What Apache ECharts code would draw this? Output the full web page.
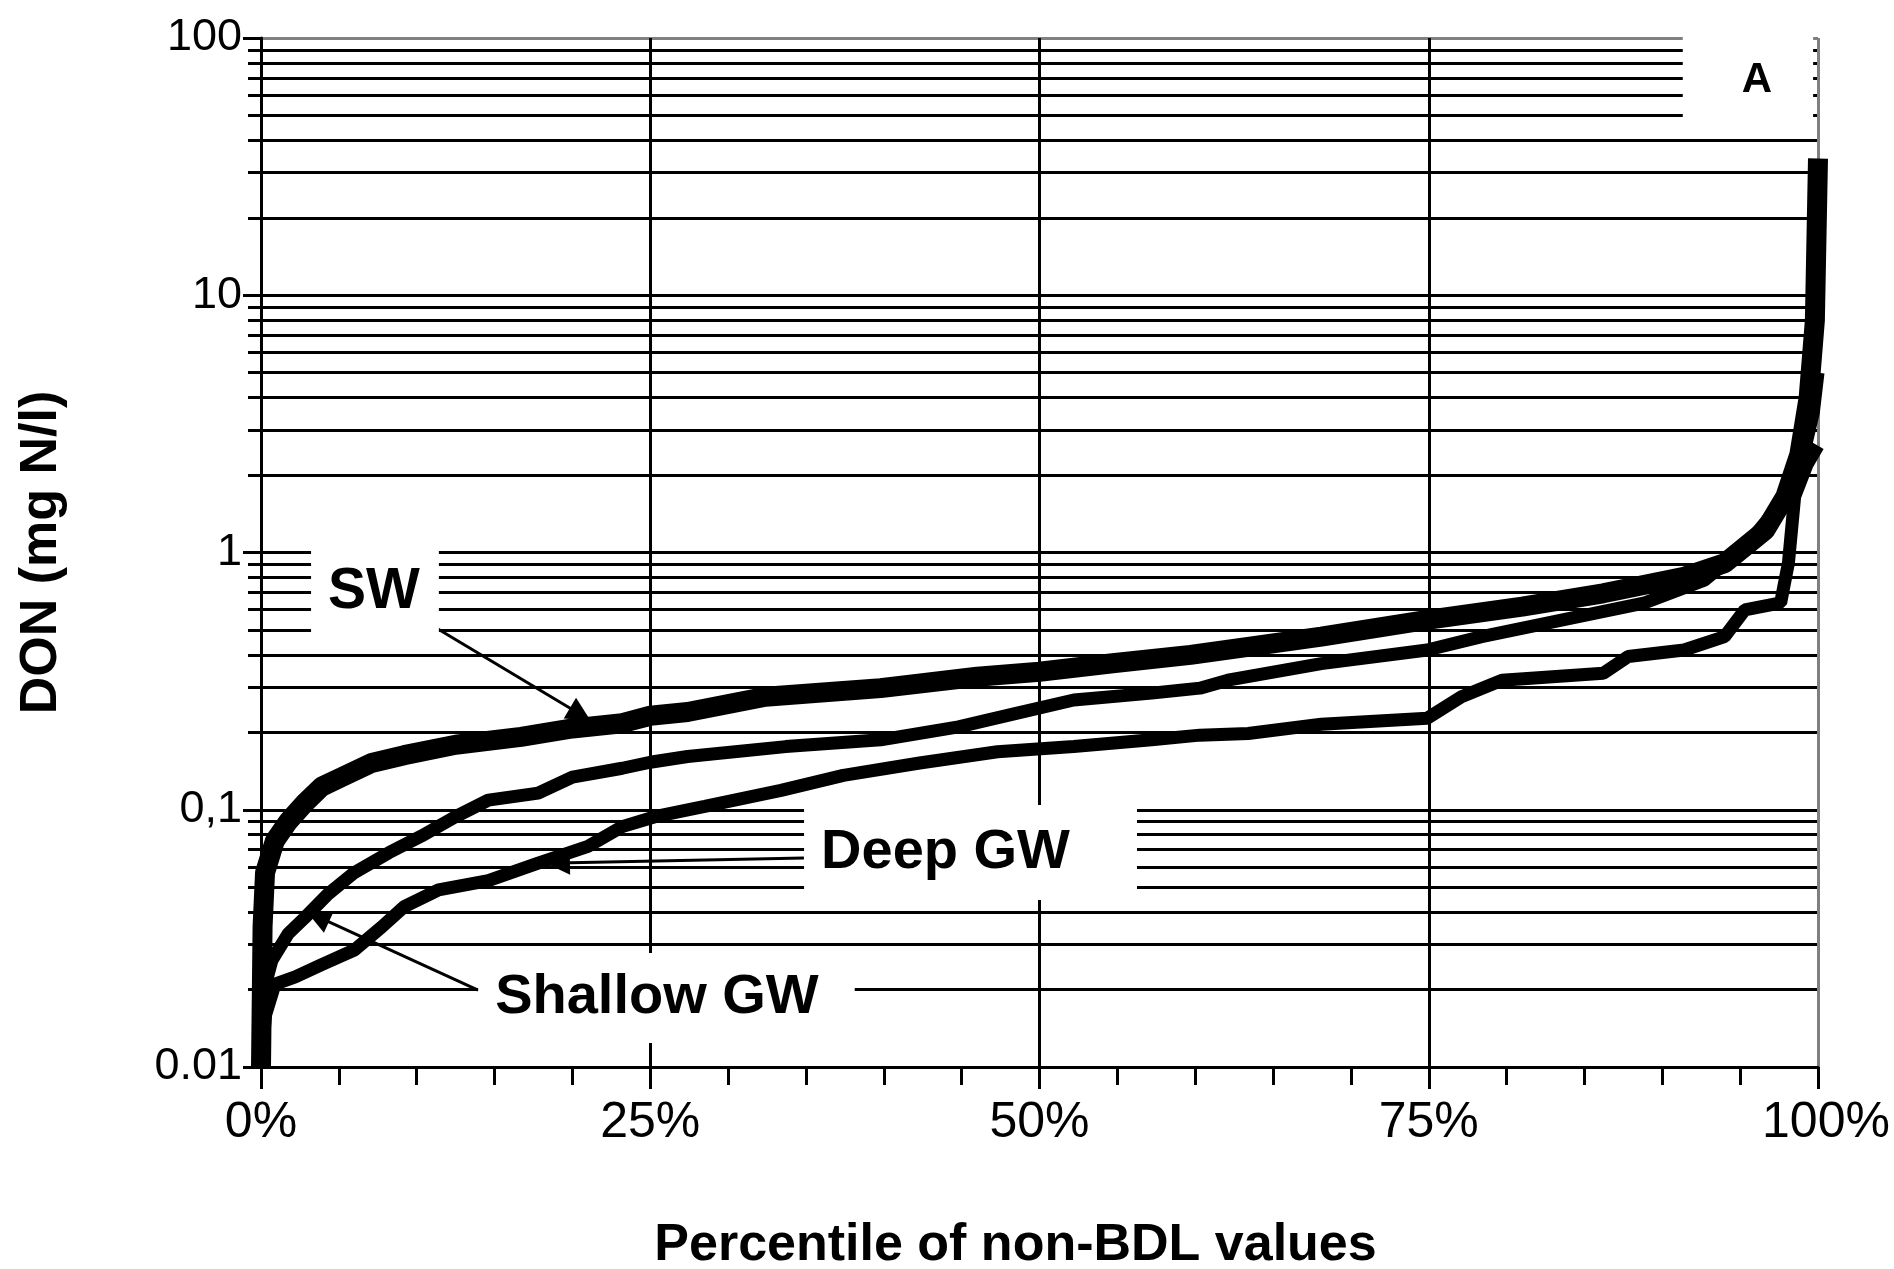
<!DOCTYPE html>
<html>
<head>
<meta charset="utf-8">
<title>DON percentiles</title>
<script src="https://cdn.jsdelivr.net/npm/echarts@6/dist/echarts.min.js"></script>
<style>
  html, body { margin: 0; padding: 0; background: #fff; }
  #chart { width: 1894px; height: 1269px; }
</style>
</head>
<body>
<div id="chart"></div>
<script>
// percentile of non-BDL values (%) and DON (mg N/l)
const swPct = [0, 0.1, 0.26, 0.9, 1.75, 2.8, 3.9, 5.2, 7.1, 9.2, 12.5, 16.7, 20, 23.2, 25, 27.4, 32.4, 39.8, 46, 50, 54.7, 59.7, 63.4, 68.1, 74.9, 81, 86.2, 91.4, 94, 96.6, 97.9, 98.8, 99.4, 99.8, 100];
const swDon = [0.01, 0.035, 0.057, 0.076, 0.09, 0.106, 0.123, 0.134, 0.152, 0.163, 0.179, 0.192, 0.207, 0.217, 0.232, 0.24, 0.275, 0.297, 0.329, 0.344, 0.371, 0.4, 0.43, 0.471, 0.547, 0.616, 0.694, 0.805, 0.908, 1.22, 1.65, 2.4, 4, 8, 34];

const shallowPct = [0, 0.2, 0.7, 1.75, 2.8, 4.3, 6, 8.2, 10.3, 12.5, 14.6, 17.8, 20, 23.2, 25, 27.4, 33.7, 39.8, 44.8, 48.5, 52.2, 57.2, 60.3, 62.1, 68.1, 74.9, 78.4, 83.6, 88.8, 92.7, 95.3, 97.1, 98.3, 99.2, 99.7, 100];
const shallowDon = [0.01, 0.02, 0.026, 0.033, 0.038, 0.047, 0.057, 0.068, 0.079, 0.094, 0.109, 0.116, 0.134, 0.145, 0.153, 0.161, 0.176, 0.187, 0.21, 0.237, 0.267, 0.284, 0.297, 0.319, 0.37, 0.418, 0.471, 0.547, 0.635, 0.78, 1.05, 1.42, 1.9, 2.6, 3.5, 5];

const deepPct = [0, 0.3, 0.9, 2.2, 3.9, 6, 7.75, 9.2, 11.4, 14.6, 17.8, 21, 23.2, 25.3, 28.5, 33.4, 37.4, 42.3, 47.3, 52.2, 57.2, 60.3, 63.4, 68.1, 74.9, 77.1, 79.7, 86.2, 87.8, 91.4, 94, 95.3, 97.6, 98.1, 98.5, 99.3, 100];
const deepDon = [0.01, 0.016, 0.021, 0.0224, 0.025, 0.0285, 0.035, 0.042, 0.0488, 0.053, 0.062, 0.072, 0.086, 0.094, 0.103, 0.119, 0.136, 0.152, 0.168, 0.176, 0.187, 0.195, 0.198, 0.215, 0.227, 0.275, 0.319, 0.339, 0.394, 0.418, 0.471, 0.598, 0.637, 0.91, 1.65, 2.2, 2.6];

// axis ticks
const xTickValues = [0, 25, 50, 75, 100];
const yLabelValues = [0.01, 0.1, 1, 10, 100];
const yTickLabels = ['0.01', '0,1', '1', '10', '100'];
const yGridValues = [
  0.01, 0.02, 0.03, 0.04, 0.05, 0.06, 0.07, 0.08, 0.09,
  0.1, 0.2, 0.3, 0.4, 0.5, 0.6, 0.7, 0.8, 0.9,
  1, 2, 3, 4, 5, 6, 7, 8, 9,
  10, 20, 30, 40, 50, 60, 70, 80, 90,
  100
];

// annotation texts
const noteTexts = ['A', 'SW', 'Deep GW', 'Shallow GW'];

const tickFont = "'Liberation Sans Narrow', 'Arial Narrow', 'Liberation Sans', Arial, sans-serif";
const boldFont = "'Liberation Sans', Arial, sans-serif";

function toPoints(xs, ys) {
  return xs.map(function (x, i) { return [x, ys[i]]; });
}

// gray top / right frame, black everywhere else
const xSplitColors = xTickValues.map(function (v) { return v === 100 ? '#808080' : '#000'; });
const ySplitColors = yGridValues.map(function (v) { return v === 100 ? '#808080' : '#000'; });

// white label boxes (anchor = box centre, in data coords)
const noteItems = [
  { value: [95.5, 68.4], label: { formatter: noteTexts[0], fontSize: 42, lineHeight: 42, padding: [36, 41, 15, 59] } },
  { value: [7.32, 0.699], label: { formatter: noteTexts[1], fontSize: 57, lineHeight: 57, padding: [20, 19, 18, 17] } },
  { value: [45.57, 0.0682], label: { formatter: noteTexts[2], fontSize: 56, lineHeight: 56, padding: [10, 67, 29, 17] } },
  { value: [26.04, 0.01854], label: { formatter: noteTexts[3], fontSize: 56, lineHeight: 56, padding: [8, 36, 26, 17] } }
];

const arrowEnd = { symbol: 'triangle', symbolSize: 24 };
const arrows = [
  [{ coord: [10.08, 0.561] }, Object.assign({ coord: [20.5, 0.235] }, arrowEnd)],
  [{ coord: [34.87, 0.0649] }, Object.assign({ coord: [19.07, 0.0621] }, arrowEnd)],
  [{ coord: [13.94, 0.0199] }, Object.assign({ coord: [3.66, 0.0383] }, arrowEnd)]
];

const chart = echarts.init(document.getElementById('chart'));

const option = {
  backgroundColor: '#fff',
  animation: false,
  grid: { left: 261, top: 38, right: 76, bottom: 202, outerBoundsMode: 'none', containLabel: false },
  xAxis: {
    type: 'value',
    min: 0,
    max: 100,
    interval: 25,
    axisLine: { onZero: false, lineStyle: { color: '#000', width: 3 } },
    axisTick: { length: 22, lineStyle: { color: '#000', width: 3 } },
    minorTick: { show: true, splitNumber: 5, length: 18, lineStyle: { color: '#000', width: 3 } },
    splitLine: { show: true, lineStyle: { color: xSplitColors, width: 3 } },
    axisLabel: {
      margin: 31,
      fontSize: 50,
      fontFamily: tickFont,
      color: '#000',
      formatter: function (v) {
        return v === 100 ? '{last|100%}' : v + '%';
      },
      rich: {
        last: { padding: [0, 0, 0, 16], fontSize: 50, fontFamily: tickFont, color: '#000' }
      }
    },
    name: 'Percentile of non-BDL values',
    nameLocation: 'middle',
    nameGap: 153,
    nameTextStyle: {
      fontSize: 52,
      fontWeight: 'bold',
      fontFamily: boldFont,
      color: '#000',
      padding: [0, 48, 0, 0]
    }
  },
  yAxis: [
    {
      type: 'log',
      logBase: 10,
      min: 0.01,
      max: 100,
      position: 'left',
      axisLine: { show: true, onZero: false, lineStyle: { color: '#000', width: 3 } },
      axisTick: { show: true, length: 13, customValues: yGridValues, lineStyle: { color: '#000', width: 3 } },
      splitLine: { show: true, lineStyle: { color: ySplitColors, width: 3 } },
      axisLabel: {
        customValues: yLabelValues,
        margin: 19,
        fontSize: 45,
        fontFamily: tickFont,
        color: '#000',
        formatter: function (v) {
          return yTickLabels[Math.round(Math.log10(v)) + 2];
        }
      },
      name: 'DON (mg N/l)',
      nameLocation: 'middle',
      nameRotate: 90,
      nameGap: 193,
      nameTextStyle: { fontSize: 52, fontWeight: 'bold', fontFamily: boldFont, color: '#000' }
    },
    {
      // longer ticks at the decades
      type: 'log',
      logBase: 10,
      min: 0.01,
      max: 100,
      position: 'left',
      offset: 0,
      axisLine: { show: false, onZero: false },
      axisTick: { show: true, length: 18, customValues: yLabelValues, lineStyle: { color: '#000', width: 3 } },
      axisLabel: { show: false },
      splitLine: { show: false }
    }
  ],
  series: [
    {
      name: 'SW',
      type: 'line',
      data: toPoints(swPct, swDon),
      showSymbol: false,
      symbol: 'none',
      silent: true,
      z: 3,
      lineStyle: { color: '#000', width: 20 }
    },
    {
      name: 'Shallow GW',
      type: 'line',
      data: toPoints(shallowPct, shallowDon),
      showSymbol: false,
      symbol: 'none',
      silent: true,
      z: 3,
      lineStyle: { color: '#000', width: 13 }
    },
    {
      name: 'Deep GW',
      type: 'line',
      data: toPoints(deepPct, deepDon),
      showSymbol: false,
      symbol: 'none',
      silent: true,
      z: 3,
      lineStyle: { color: '#000', width: 13 }
    },
    {
      name: 'notes',
      type: 'scatter',
      silent: true,
      z: 5,
      symbolSize: 1,
      itemStyle: { color: 'rgba(0,0,0,0)', opacity: 1 },
      label: {
        show: true,
        position: 'inside',
        color: '#000',
        opacity: 1,
        fontWeight: 'bold',
        fontFamily: boldFont,
        backgroundColor: '#fff'
      },
      data: noteItems,
      markLine: {
        silent: true,
        symbol: ['none', 'triangle'],
        symbolSize: 24,
        label: { show: false },
        lineStyle: { color: '#000', width: 3, type: 'solid', opacity: 1 },
        data: arrows
      }
    }
  ]
};

chart.setOption(option);
</script>
</body>
</html>
